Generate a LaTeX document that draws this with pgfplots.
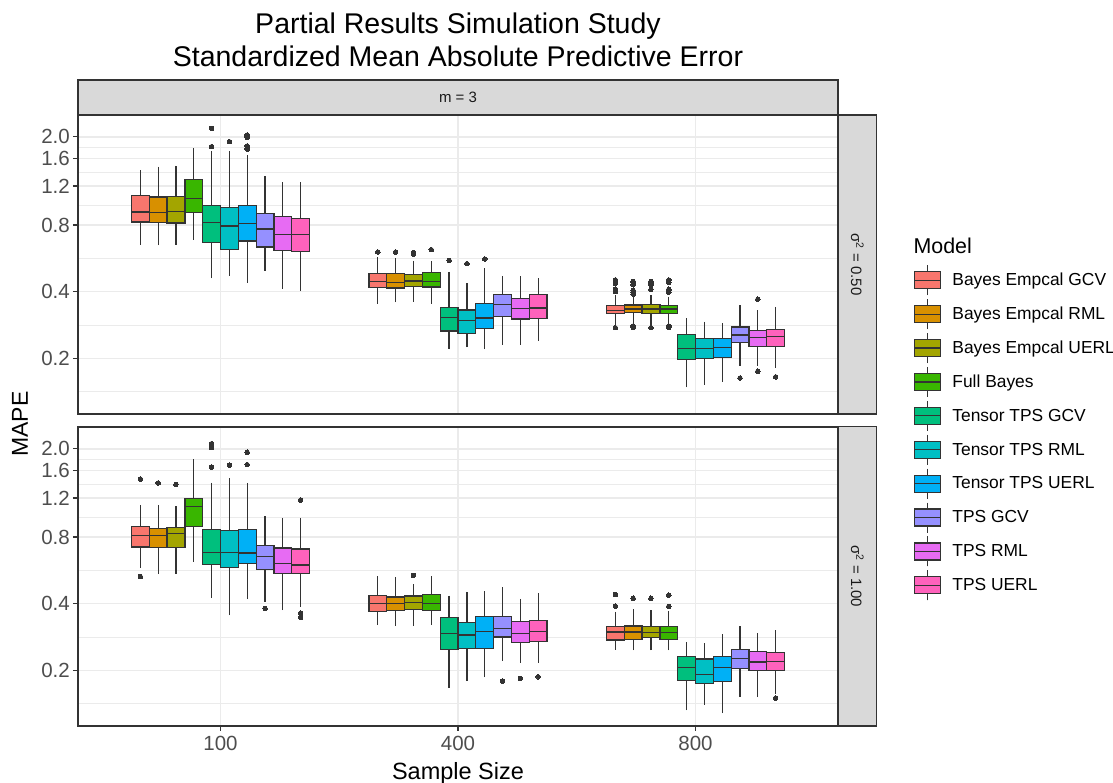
\documentclass[border=0pt]{standalone}
\usepackage{fontspec}
\setmainfont{Liberation Sans}
\usepackage{pgfplots}
\pgfplotsset{compat=1.18}
\usepgfplotslibrary{statistics}

\definecolor{gray20}{HTML}{333333}
\definecolor{gray30}{HTML}{4D4D4D}
\definecolor{gray10}{HTML}{1A1A1A}
\definecolor{gray92}{HTML}{EBEBEB}
\definecolor{gray85}{HTML}{D9D9D9}
\definecolor{c0}{HTML}{F8766D}
\definecolor{c1}{HTML}{D89000}
\definecolor{c2}{HTML}{A3A500}
\definecolor{c3}{HTML}{39B600}
\definecolor{c4}{HTML}{00BF7D}
\definecolor{c5}{HTML}{00BFC4}
\definecolor{c6}{HTML}{00B0F6}
\definecolor{c7}{HTML}{9590FF}
\definecolor{c8}{HTML}{E76BF3}
\definecolor{c9}{HTML}{FF62BC}

% #1 draw position, #2 colour, #3 lower whisker, #4 lower quartile, #5 median,
% #6 upper quartile, #7 upper whisker, #8 outliers
\newcommand{\bx}[8]{%
  \addplot[forget plot, fill=#2, draw=gray20, line width=1.25pt,
    mark=*, mark size=2.3pt, mark options={fill=gray20, draw=gray20, line width=0pt},
    boxplot prepared={draw direction=y, draw position=#1, lower whisker=#3, lower quartile=#4,
      median=#5, upper quartile=#6, upper whisker=#7,
      box extend=0.075, whisker extend=0}]
    table[row sep=\\, y index=0] {d\\ #8};
}

\begin{document}
\begin{tikzpicture}
\useasboundingbox (0pt,0pt) rectangle (1113pt,-782pt);

% ---------------- top panel: sigma^2 = 0.50 ----------------
\begin{axis}[
    scale only axis, width=760pt, height=299pt,
    at={(78pt,-414pt)}, anchor=south west,
    xmin=0.4, xmax=3.6,
    ymode=log, ymin=0.1121, ymax=2.51,
    xtick={1,2,3}, xticklabels={}, 
    ytick={0.2,0.4,0.8,1.2,1.6,2.0},
    yticklabels={0.2,0.4,0.8,1.2,1.6,2.0},
    minor ytick={0.1414,0.2828,0.5657,0.9798,1.3856,1.7889},
    xmajorgrids, ymajorgrids, yminorgrids,
    major grid style={gray92, line width=1.4pt},
    minor grid style={gray92, line width=0.7pt},
    axis line style={gray20, line width=1.3pt},
    tick align=outside, tick pos=left,
    major tick length=5pt, minor tick length=0pt,
    ytick style={gray20, line width=1.1pt},
    xtick style={draw=none},
    ticklabel style={font=\fontsize{20.5}{24}\selectfont, text=gray30},
    yticklabel style={inner sep=3pt},
  legend style={at={(1.1,0.5)}, anchor=north west, draw=none, fill=none,
    font=\fontsize{17.4}{20}\selectfont, row sep=2.9pt, inner sep=0pt,
    /tikz/every odd column/.append style={column sep=9pt}},
  legend cell align=left,
  legend image code/.code={
    \draw[gray20, line width=1pt] (13pt,-15pt) -- (13pt,15pt);
    \draw[#1, draw=gray20, line width=1.2pt] (0pt,-8.5pt) rectangle (26pt,8.5pt);
    \draw[gray20, line width=1.2pt] (0pt,0pt) -- (26pt,0pt);
  }]
% n = 100
\bx{0.6625}{c0}{0.650}{0.825}{0.916}{1.089}{1.410}{}
\bx{0.7375}{c1}{0.647}{0.822}{0.913}{1.070}{1.467}{}
\bx{0.8125}{c2}{0.652}{0.817}{0.922}{1.078}{1.483}{}
\bx{0.8875}{c3}{0.685}{0.913}{1.056}{1.282}{1.775}{}
\bx{0.9625}{c4}{0.459}{0.668}{0.822}{0.982}{1.727}{2.186\\ 1.806\\}
\bx{1.0375}{c5}{0.472}{0.621}{0.792}{0.958}{1.727}{1.903\\}
\bx{1.1125}{c6}{0.439}{0.677}{0.814}{0.979}{1.656}{2.04\\ 2.01\\ 1.99\\ 1.82\\ 1.78\\ 1.76\\}
\bx{1.1875}{c7}{0.498}{0.636}{0.767}{0.900}{1.332}{}
\bx{1.2625}{c8}{0.413}{0.615}{0.723}{0.872}{1.247}{}
\bx{1.3375}{c9}{0.404}{0.608}{0.726}{0.857}{1.250}{}
% n = 400
\bx{1.6625}{c0}{0.353}{0.418}{0.444}{0.484}{0.572}{0.604\\}
\bx{1.7375}{c1}{0.358}{0.416}{0.439}{0.482}{0.566}{0.604\\}
\bx{1.8125}{c2}{0.360}{0.423}{0.447}{0.479}{0.552}{0.600\\ 0.590\\}
\bx{1.8875}{c3}{0.352}{0.420}{0.444}{0.4875}{0.548}{0.619\\}
\bx{1.9625}{c4}{0.2196}{0.266}{0.305}{0.340}{0.491}{0.554\\}
\bx{2.0375}{c5}{0.224}{0.259}{0.297}{0.3305}{0.436}{0.535\\}
\bx{2.1125}{c6}{0.2196}{0.273}{0.304}{0.353}{0.510}{0.562\\}
\bx{2.1875}{c7}{0.230}{0.310}{0.349}{0.388}{0.471}{}
\bx{2.2625}{c8}{0.230}{0.301}{0.335}{0.373}{0.470}{}
\bx{2.3375}{c9}{0.239}{0.303}{0.3375}{0.388}{0.461}{}
% n = 800
\bx{2.6625}{c0}{0.283}{0.318}{0.330}{0.346}{0.386}{0.452\\ 0.445\\ 0.436\\ 0.410\\ 0.400\\ 0.275\\}
\bx{2.7375}{c1}{0.288}{0.322}{0.334}{0.348}{0.380}{0.445\\ 0.440\\ 0.430\\ 0.405\\ 0.398\\ 0.390\\ 0.280\\ 0.276\\}
\bx{2.8125}{c2}{0.283}{0.320}{0.334}{0.350}{0.386}{0.445\\ 0.436\\ 0.430\\ 0.410\\ 0.275\\}
\bx{2.8875}{c3}{0.288}{0.320}{0.334}{0.346}{0.380}{0.452\\ 0.440\\ 0.410\\ 0.404\\ 0.398\\ 0.280\\ 0.276\\}
\bx{2.9625}{c4}{0.148}{0.198}{0.222}{0.257}{0.303}{}
\bx{3.0375}{c5}{0.152}{0.200}{0.222}{0.245}{0.293}{}
\bx{3.1125}{c6}{0.157}{0.202}{0.224}{0.246}{0.288}{}
\bx{3.1875}{c7}{0.185}{0.235}{0.255}{0.277}{0.347}{0.163\\}
\bx{3.2625}{c8}{0.185}{0.227}{0.248}{0.268}{0.330}{0.370\\ 0.175\\}
\bx{3.3375}{c9}{0.181}{0.227}{0.250}{0.270}{0.342}{0.165\\}
% legend
\addlegendimage{fill=c0}\addlegendentry{Bayes Empcal GCV}
\addlegendimage{fill=c1}\addlegendentry{Bayes Empcal RML}
\addlegendimage{fill=c2}\addlegendentry{Bayes Empcal UERL}
\addlegendimage{fill=c3}\addlegendentry{Full Bayes}
\addlegendimage{fill=c4}\addlegendentry{Tensor TPS GCV}
\addlegendimage{fill=c5}\addlegendentry{Tensor TPS RML}
\addlegendimage{fill=c6}\addlegendentry{Tensor TPS UERL}
\addlegendimage{fill=c7}\addlegendentry{TPS GCV}
\addlegendimage{fill=c8}\addlegendentry{TPS RML}
\addlegendimage{fill=c9}\addlegendentry{TPS UERL}
\end{axis}

% ---------------- bottom panel: sigma^2 = 1.00 ----------------
\begin{axis}[
    scale only axis, width=760pt, height=299pt,
    at={(78pt,-726pt)}, anchor=south west,
    xmin=0.4, xmax=3.6,
    ymode=log, ymin=0.1121, ymax=2.51,
    xtick={1,2,3}, xticklabels={100,400,800},
    ytick={0.2,0.4,0.8,1.2,1.6,2.0},
    yticklabels={0.2,0.4,0.8,1.2,1.6,2.0},
    minor ytick={0.1414,0.2828,0.5657,0.9798,1.3856,1.7889},
    xmajorgrids, ymajorgrids, yminorgrids,
    major grid style={gray92, line width=1.4pt},
    minor grid style={gray92, line width=0.7pt},
    axis line style={gray20, line width=1.3pt},
    tick align=outside, tick pos=left,
    major tick length=5pt, minor tick length=0pt,
    tick style={gray20, line width=1.1pt},
    ticklabel style={font=\fontsize{20.5}{24}\selectfont, text=gray30},
    yticklabel style={inner sep=3pt},
    xticklabel style={inner sep=5pt}]
% n = 100
\bx{0.6625}{c0}{0.580}{0.721}{0.814}{0.891}{1.116}{1.462\\ 0.530\\}
\bx{0.7375}{c1}{0.544}{0.716}{0.814}{0.875}{1.116}{1.403\\}
\bx{0.8125}{c2}{0.544}{0.716}{0.831}{0.882}{1.104}{1.383\\}
\bx{0.8875}{c3}{0.617}{0.891}{1.100}{1.196}{1.794}{}
\bx{0.9625}{c4}{0.424}{0.602}{0.682}{0.863}{1.407}{2.111\\ 2.025\\ 1.656\\}
\bx{1.0375}{c5}{0.354}{0.584}{0.680}{0.857}{1.472}{1.686\\}
\bx{1.1125}{c6}{0.418}{0.606}{0.678}{0.863}{1.403}{1.930\\ 1.697\\}
\bx{1.1875}{c7}{0.408}{0.570}{0.654}{0.734}{0.992}{0.381\\}
\bx{1.2625}{c8}{0.373}{0.546}{0.608}{0.714}{0.978}{}
\bx{1.3375}{c9}{0.386}{0.548}{0.598}{0.706}{0.978}{1.175\\ 0.362\\ 0.347\\}
% n = 400
\bx{1.6625}{c0}{0.320}{0.368}{0.400}{0.435}{0.533}{}
\bx{1.7375}{c1}{0.317}{0.372}{0.400}{0.429}{0.529}{}
\bx{1.8125}{c2}{0.317}{0.376}{0.406}{0.433}{0.489}{0.537\\}
\bx{1.8875}{c3}{0.320}{0.372}{0.400}{0.4394}{0.533}{}
\bx{1.9625}{c4}{0.167}{0.249}{0.293}{0.347}{0.435}{}
\bx{2.0375}{c5}{0.179}{0.251}{0.289}{0.329}{0.453}{}
\bx{2.1125}{c6}{0.186}{0.251}{0.300}{0.350}{0.456}{}
\bx{2.1875}{c7}{0.220}{0.283}{0.310}{0.350}{0.474}{0.179\\}
\bx{2.2625}{c8}{0.216}{0.268}{0.293}{0.333}{0.421}{0.184\\}
\bx{2.3375}{c9}{0.216}{0.269}{0.300}{0.336}{0.447}{0.187\\}
% n = 800
\bx{2.6625}{c0}{0.248}{0.274}{0.298}{0.315}{0.368}{0.440\\ 0.390\\}
\bx{2.7375}{c1}{0.246}{0.276}{0.298}{0.317}{0.377}{0.423\\}
\bx{2.8125}{c2}{0.246}{0.281}{0.296}{0.315}{0.375}{0.423\\}
\bx{2.8875}{c3}{0.246}{0.275}{0.296}{0.315}{0.371}{0.437\\ 0.389\\}
\bx{2.9625}{c4}{0.132}{0.180}{0.206}{0.231}{0.269}{}
\bx{3.0375}{c5}{0.140}{0.175}{0.191}{0.225}{0.265}{}
\bx{3.1125}{c6}{0.128}{0.178}{0.206}{0.231}{0.291}{}
\bx{3.1875}{c7}{0.152}{0.204}{0.227}{0.249}{0.316}{}
\bx{3.2625}{c8}{0.151}{0.200}{0.218}{0.243}{0.295}{}
\bx{3.3375}{c9}{0.156}{0.200}{0.219}{0.241}{0.303}{0.150\\}
\end{axis}

% strips
\draw[gray20, fill=gray85, line width=1.3pt] (78pt,-80pt) rectangle (838pt,-114.3pt);
\node[text=gray10, font=\fontsize{15}{18}\selectfont] at (458pt,-97.2pt) {m = 3};
\draw[gray20, fill=gray85, line width=1.3pt] (838pt,-115pt) rectangle (876.7pt,-414pt);
\node[text=gray10, font=\fontsize{15}{18}\selectfont, rotate=-90] at (857.4pt,-264.5pt) {σ\textsuperscript{2} = 0.50};
\draw[gray20, fill=gray85, line width=1.3pt] (838pt,-426.7pt) rectangle (876.7pt,-726pt);
\node[text=gray10, font=\fontsize{15}{18}\selectfont, rotate=-90] at (857.4pt,-576.4pt) {σ\textsuperscript{2} = 1.00};

% titles
\node[anchor=base, font=\fontsize{28.5}{32}\selectfont] at (458pt,-33.3pt) {Partial Results Simulation Study};
\node[anchor=base, font=\fontsize{28.5}{32}\selectfont] at (458pt,-66pt) {Standardized Mean Absolute Predictive Error};
\node[anchor=base, font=\fontsize{23.5}{28}\selectfont] at (458pt,-779pt) {Sample Size};
\node[rotate=90, font=\fontsize{23}{28}\selectfont] at (20pt,-424pt) {MAPE};
\node[anchor=base west, font=\fontsize{21.4}{25}\selectfont] at (910pt,-253pt) {Model};
\end{tikzpicture}
\end{document}
